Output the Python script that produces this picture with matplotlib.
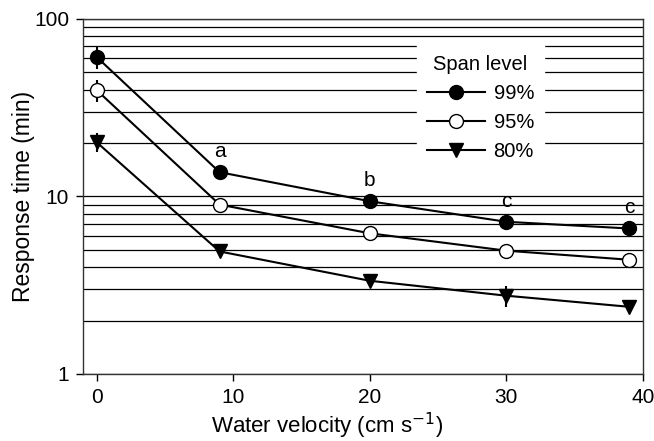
import matplotlib
import numpy as np

matplotlib.use("Agg")
from matplotlib import pyplot as plt
from matplotlib.ticker import FixedLocator, LogLocator, NullFormatter

plt.rcParams["font.family"] = ["Liberation Sans", "DejaVu Sans"]

velocity = [0, 9, 20, 30, 39]
span_labels = ["99%", "95%", "80%"]
time_99 = [61, 13.7, 9.4, 7.2, 6.6]
time_95 = [39.7, 9.0, 6.2, 4.95, 4.4]
time_80 = [20.2, 4.9, 3.35, 2.76, 2.39]
err_99 = [8.5, 0.5, 0.3, 0.3, 0.2]
err_95 = [5.5, 0.3, 0.2, 0.2, 0.2]
err_80 = [2.5, 0.2, 0.1, 0.37, 0.1]
group_letters = ["a", "b", "c", "c"]

fig = plt.figure(figsize=(6.54, 4.41), dpi=100)
ax = fig.add_axes([0.127, 0.152, 0.856, 0.805])

styles = [
    dict(marker="o", mfc="black", mec="black"),
    dict(marker="o", mfc="white", mec="black"),
    dict(marker="v", mfc="black", mec="black"),
]
series = [(time_99, err_99), (time_95, err_95), (time_80, err_80)]
handles = []
for (values, errors), label, style in zip(series, span_labels, styles):
    container = ax.errorbar(velocity, values, yerr=errors, color="black", lw=1.5,
                            elinewidth=1.5, capsize=0, markersize=10, label=label,
                            zorder=3, **style)
    handles.append(container[0])

for xv, yv, letter in zip(velocity[1:], time_99[1:], group_letters):
    ax.annotate(letter, (xv, yv), xytext=(0, 8), textcoords="offset points",
                ha="center", va="bottom", fontsize=15)

ax.set_yscale("log")
ax.set_ylim(1, 100)
ax.set_xlim(-1, 40)
ax.set_xticks([0, 10, 20, 30, 40])
ax.yaxis.set_major_locator(FixedLocator([1, 10, 100]))
ax.yaxis.set_minor_locator(LogLocator(base=10, subs=np.arange(2, 10)))
ax.yaxis.set_minor_formatter(NullFormatter())
ax.set_yticklabels(["1", "10", "100"])
ax.tick_params(axis="both", which="major", direction="out", length=5,
               labelsize=15, width=1, pad=5)
ax.tick_params(axis="y", which="minor", length=0)
ax.yaxis.grid(True, which="both", color="black", lw=0.9)
ax.set_axisbelow(True)
for spine in ax.spines.values():
    spine.set_linewidth(1)
    spine.set_color("#333333")

ax.set_xlabel("Water velocity (cm s$^{-1}$)", fontsize=16)
ax.xaxis.set_label_coords(0.436, -0.105)
ax.set_ylabel("Response time (min)", fontsize=16.5)
ax.yaxis.set_label_coords(-0.085, 0.5)

legend = ax.legend(handles, span_labels, title="Span level", loc="center",
                   bbox_to_anchor=(0.71, 0.75), fontsize=14.5, title_fontsize=14.5,
                   frameon=True, fancybox=False, handlelength=2.9,
                   labelspacing=0.5, borderpad=0.5, handletextpad=0.4)
legend.get_frame().set_facecolor("white")
legend.get_frame().set_edgecolor("white")
legend.get_frame().set_alpha(1)
legend.set_zorder(5)

fig.savefig("out.png", dpi=100)
